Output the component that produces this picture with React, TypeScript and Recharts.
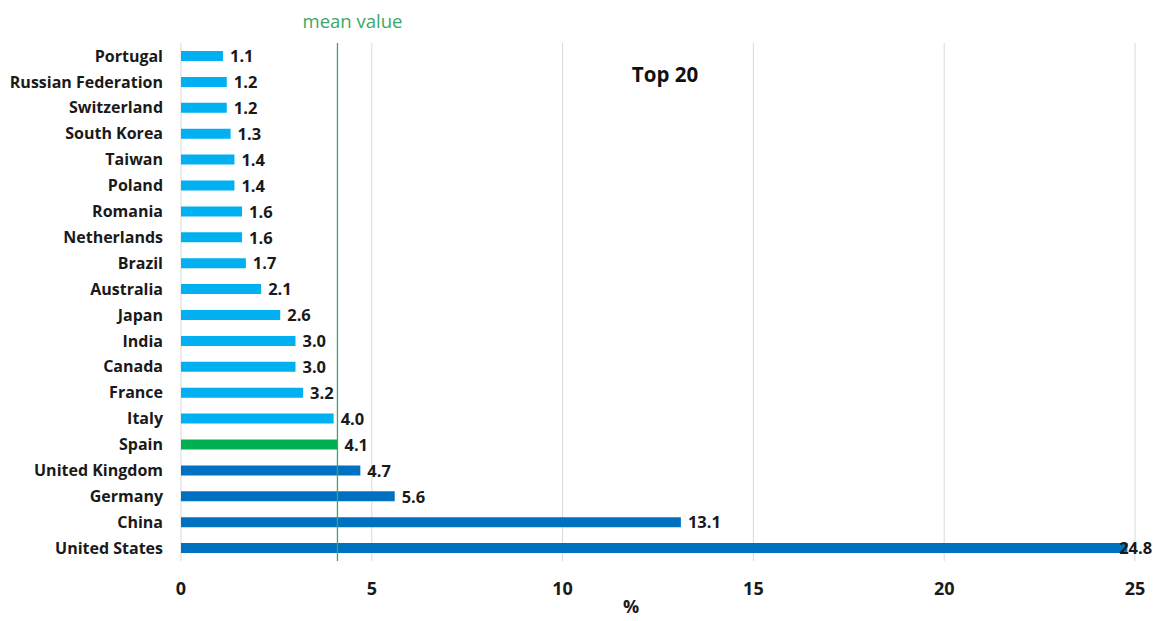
import React from 'react';
import { BarChart, Bar, XAxis, YAxis, CartesianGrid, ReferenceLine, LabelList, Cell } from 'recharts';

const countries = [
  'Portugal', 'Russian Federation', 'Switzerland', 'South Korea', 'Taiwan', 'Poland', 'Romania',
  'Netherlands', 'Brazil', 'Australia', 'Japan', 'India', 'Canada', 'France', 'Italy', 'Spain',
  'United Kingdom', 'Germany', 'China', 'United States',
];
const shares = [1.1, 1.2, 1.2, 1.3, 1.4, 1.4, 1.6, 1.6, 1.7, 2.1, 2.6, 3.0, 3.0, 3.2, 4.0, 4.1, 4.7, 5.6, 13.1, 24.8];
const groups = ['low', 'low', 'low', 'low', 'low', 'low', 'low', 'low', 'low', 'low', 'low', 'low', 'low', 'low', 'low', 'spain', 'high', 'high', 'high', 'high'];
const xTicks = [0, 5, 10, 15, 20, 25];
const meanValue = 4.1;

const groupColors: Record<string, string> = { low: '#00b0f0', spain: '#00b050', high: '#0070c0' };

const data = countries.map((c, i) => ({ country: c, value: shares[i], group: groups[i] }));

const FONT = '"Open Sans", Lato, sans-serif';
const CHART_W = 1158;

const MeanLabel = (props: any) => {
  const vb = props.viewBox || {};
  return (
    <text x={vb.x + 15} y={28} textAnchor="middle" fill="#3aa66a" fontFamily={FONT} fontSize={18.5}>
      mean value
    </text>
  );
};

const ValueLabel = (props: any) => {
  const { x, y, width, height, value } = props;
  const txt = Number(value).toFixed(1);
  const estW = txt.length * 9.2;
  let tx = Number(x) + Number(width) + 7;
  if (tx + estW > CHART_W - 2) tx = CHART_W - 2 - estW;
  return (
    <text
      x={tx}
      y={Number(y) + Number(height) / 2}
      dy="0.38em"
      fill="#1a1a1a"
      fontFamily={FONT}
      fontSize={16.5}
      fontWeight={700}
    >
      {txt}
    </text>
  );
};

export default function App() {
  return (
    <div style={{ position: 'absolute', left: 0, top: 0, width: 1158, height: 621, background: '#fff' }}>
      <BarChart
        width={CHART_W}
        height={621}
        data={data}
        layout="vertical"
        margin={{ top: 43, right: 23, bottom: 0, left: 0 }}
        barCategoryGap={0}
      >
        <CartesianGrid horizontal={false} stroke="#d9d9d9" />
        <XAxis
          type="number"
          domain={[0, 25]}
          ticks={xTicks}
          axisLine={false}
          tickLine={false}
          height={60}
          tick={{ fill: '#1a1a1a', fontSize: 18, fontWeight: 700, fontFamily: FONT }}
          tickMargin={15}
          label={{ value: '%', position: 'insideBottom', offset: 8, dx: -27, fill: '#1a1a1a', fontSize: 18, fontWeight: 700, fontFamily: FONT }}
        />
        <YAxis
          type="category"
          dataKey="country"
          width={181}
          axisLine={false}
          tickLine={false}
          tickSize={0}
          tickMargin={18}
          interval={0}
          tick={{ fill: '#1a1a1a', fontSize: 16, fontWeight: 700, fontFamily: FONT }}
        />
        <Bar dataKey="value" barSize={10} isAnimationActive={false}>
          {data.map((d, i) => (
            <Cell key={i} fill={groupColors[d.group]} />
          ))}
          <LabelList dataKey="value" content={<ValueLabel />} />
        </Bar>
        <ReferenceLine x={meanValue} stroke="#3aa66a" strokeWidth={1.3} label={<MeanLabel />} />
      </BarChart>
      <div
        style={{
          position: 'absolute',
          left: 615,
          top: 60,
          width: 100,
          textAlign: 'center',
          fontFamily: FONT,
          fontWeight: 700,
          fontSize: 20.5,
          color: '#111',
          lineHeight: '28px',
        }}
      >
        Top 20
      </div>
    </div>
  );
}
